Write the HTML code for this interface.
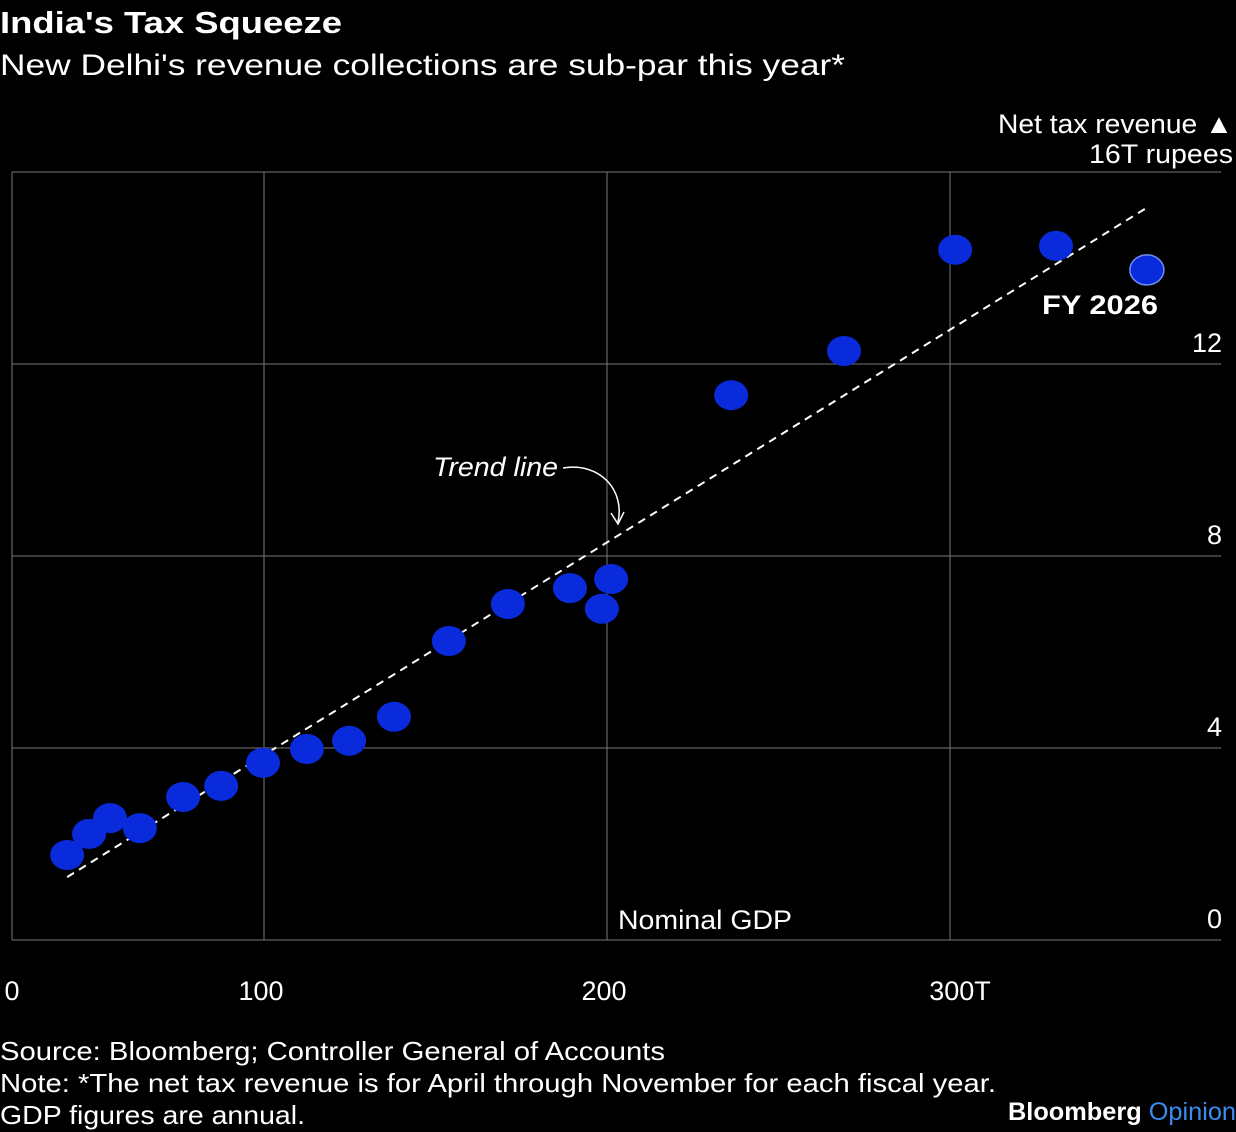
<!DOCTYPE html>
<html><head><meta charset="utf-8"><style>
html,body{margin:0;padding:0;background:#000;}
body{width:1236px;height:1132px;overflow:hidden;font-family:"Liberation Sans",sans-serif;color:#fff;}
</style></head><body>
<svg width="1236" height="1132" style="position:absolute;left:0;top:0">
<text x="0" y="33" font-size="31" font-weight="bold" fill="#fff" textLength="342" lengthAdjust="spacingAndGlyphs">India's Tax Squeeze</text>
<text x="0" y="75" font-size="30" fill="#fff" textLength="845" lengthAdjust="spacingAndGlyphs">New Delhi's revenue collections are sub-par this year*</text>
<text x="1233" y="133" font-size="27" fill="#fff" text-anchor="end" textLength="235" lengthAdjust="spacingAndGlyphs">Net tax revenue ▲</text>
<text x="1233" y="163" font-size="27" fill="#fff" text-anchor="end" textLength="144" lengthAdjust="spacingAndGlyphs">16T rupees</text>
<g id="grid"></g>
<g id="trend"></g>
<g id="dots"></g>
<text x="433" y="476" font-size="27" font-style="italic" fill="#fff" textLength="125" lengthAdjust="spacingAndGlyphs">Trend line</text>
<path d="M563,468 C600,462 625,490 618,522" fill="none" stroke="#fff" stroke-width="1.5"/>
<path d="M611,513 L618,524 L624,512" fill="none" stroke="#fff" stroke-width="1.5"/>
<text x="1042" y="314" font-size="27" font-weight="bold" fill="#fff" textLength="116" lengthAdjust="spacingAndGlyphs">FY 2026</text>
<text x="618" y="929" font-size="27" fill="#fff" textLength="174" lengthAdjust="spacingAndGlyphs">Nominal GDP</text>
<text x="0" y="1060" font-size="26" fill="#fff" textLength="665" lengthAdjust="spacingAndGlyphs">Source: Bloomberg; Controller General of Accounts</text>
<text x="0" y="1092" font-size="26" fill="#fff" textLength="996" lengthAdjust="spacingAndGlyphs">Note: *The net tax revenue is for April through November for each fiscal year.</text>
<text x="0" y="1124" font-size="26" fill="#fff" textLength="305" lengthAdjust="spacingAndGlyphs">GDP figures are annual.</text>
<text x="1008" y="1120" font-size="25" font-weight="bold" fill="#fff" textLength="228" lengthAdjust="spacingAndGlyphs">Bloomberg <tspan fill="#3b8cf0" font-weight="normal">Opinion</tspan></text>
</svg>
<script>
const gdp=[42.6,49.0,55.1,63.8,76.4,87.5,99.7,112.5,124.8,137.9,153.9,171.1,189.2,201.2,198.5,236.2,269.1,301.5,330.9,357.4];
const tax=[1.77,2.21,2.54,2.33,2.98,3.21,3.69,3.98,4.15,4.65,6.23,7.0,7.33,7.52,6.90,11.35,12.27,14.38,14.46,13.96];
const trendX=[42.6,357.7];
const trendY=[1.31,15.27];
const xTicks=[100,200,300];
const xTickLabels=["100","200","300T"];
const yTicks=[0,4,8,12,16];
const yTickLabels=["0","4","8","12",""];
const sx=v=>264+(v-100)*3.43;
const sy=v=>940-v*48;
const NS="http://www.w3.org/2000/svg";
function mk(t,a,p){const e=document.createElementNS(NS,t);for(const k in a)e.setAttribute(k,a[k]);p.appendChild(e);return e;}
const grid=document.getElementById('grid');
let l=mk('line',{x1:12,x2:12,y1:172,y2:940,stroke:'#777','stroke-width':1},grid);


let z=mk('text',{x:12,y:1000,'font-size':27,fill:'#fff','text-anchor':'middle'},grid);z.textContent='0';


yTicks.forEach((v,i)=>{
 const g=mk('line',{x1:12,x2:1221,y1:sy(v),y2:sy(v),stroke:'#777','stroke-width':1},grid);
 
 
 if(yTickLabels[i]){const t=mk('text',{x:1222,y:sy(v)-12,'font-size':27,fill:'#fff','text-anchor':'end'},grid);t.textContent=yTickLabels[i];
 
 }
});
xTicks.forEach((v,i)=>{
 const g=mk('line',{x1:sx(v),x2:sx(v),y1:172,y2:940,stroke:'#777','stroke-width':1},grid);
 
 
 const t=mk('text',{x:sx(v)+(i==2?10:-3),y:1000,'font-size':27,fill:'#fff','text-anchor':'middle'},grid);t.textContent=xTickLabels[i];
 
 
});
const tr=mk('line',{x1:sx(trendX[0]),y1:sy(trendY[0]),x2:sx(trendX[1]),y2:sy(trendY[1]),stroke:'#fff','stroke-width':2,'stroke-dasharray':'8,6'},document.getElementById('trend'));


const dots=document.getElementById('dots');
gdp.forEach((v,i)=>{
 const last=i===gdp.length-1;
 const c=mk('ellipse',{cx:sx(v),cy:sy(tax[i]),rx:17,ry:15,fill:'#0a2bdc',stroke:last?'#6f8ff0':'none','stroke-width':1.5},dots);
 
 
});
</script>
</body></html>
